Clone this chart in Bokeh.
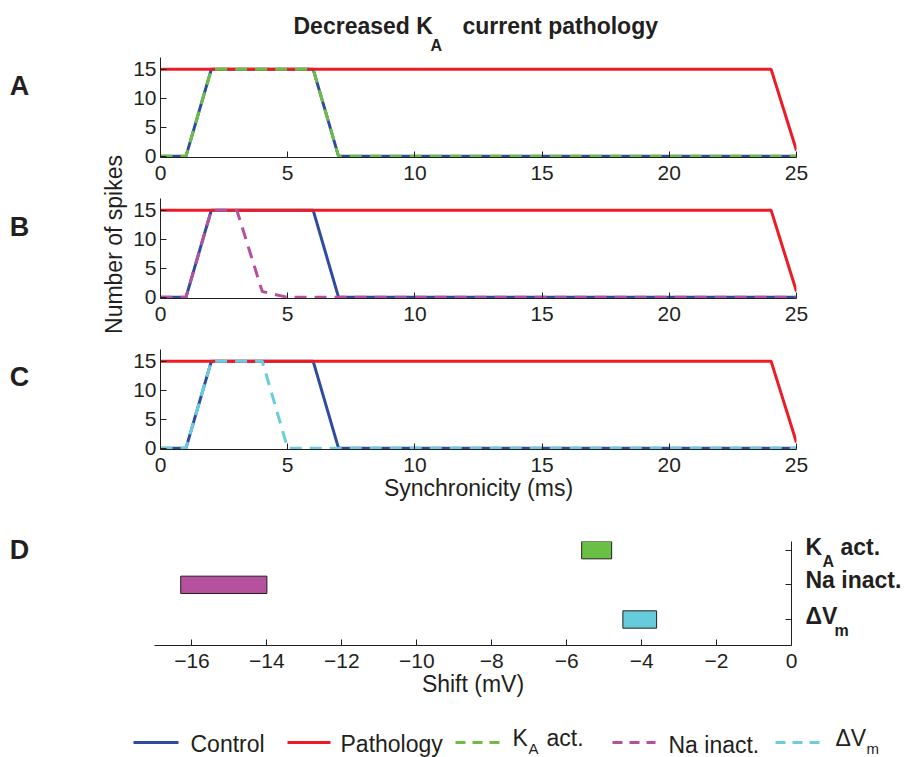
import math
from bokeh.plotting import figure
from bokeh.layouts import column, row
from bokeh.models import Range1d, FixedTicker
from bokeh.embed import file_html
from bokeh.resources import INLINE
from bokeh.core.properties import value

FONT = "Liberation Sans"
INK = "#231f20"
BLUE = "#2f4b9f"
RED = "#ed1c24"
GREEN = "#6cbd45"
MAGENTA = "#b5509d"
CYAN = "#6accdc"

# ---------------- data ----------------
synchronicity_ms = [0, 1, 2, 3, 4, 5, 6, 7, 8, 9, 10, 11, 12, 13, 14, 15, 16, 17, 18, 19, 20, 21, 22, 23, 24, 25]
control_spikes = [0, 0, 15, 15, 15, 15, 15, 0, 0, 0, 0, 0, 0, 0, 0, 0, 0, 0, 0, 0, 0, 0, 0, 0, 0, 0]
pathology_spikes = [15, 15, 15, 15, 15, 15, 15, 15, 15, 15, 15, 15, 15, 15, 15, 15, 15, 15, 15, 15, 15, 15, 15, 15, 15, 1]
ka_act_spikes = [0, 0, 15, 15, 15, 15, 15, 0, 0, 0, 0, 0, 0, 0, 0, 0, 0, 0, 0, 0, 0, 0, 0, 0, 0, 0]
na_inact_spikes = [0, 0, 15, 15, 1, 0, 0, 0, 0, 0, 0, 0, 0, 0, 0, 0, 0, 0, 0, 0, 0, 0, 0, 0, 0, 0]
dvm_spikes = [0, 0, 15, 15, 15, 0, 0, 0, 0, 0, 0, 0, 0, 0, 0, 0, 0, 0, 0, 0, 0, 0, 0, 0, 0, 0]

synch_ticks = [0, 5, 10, 15, 20, 25]
spike_ticks = [0, 5, 10, 15]

shift_rows = [3, 2, 1]            # K_A act., Na inact., dV_m
shift_left = [-5.6, -16.3, -4.5]
shift_right = [-4.8, -14.0, -3.6]
shift_colors = ["#6abf45", "#b5519d", "#66cbdb"]
shift_ticks = [-16, -14, -12, -10, -8, -6, -4, -2, 0]


def style_axis(ax, ticks):
    ax.ticker = FixedTicker(ticks=ticks)
    ax.minor_tick_line_color = None
    ax.major_tick_in = 6
    ax.major_tick_out = 0
    ax.axis_line_color = INK
    ax.axis_line_width = 1
    ax.major_tick_line_color = INK
    ax.major_label_text_font = FONT
    ax.major_label_text_font_size = "21px"
    ax.major_label_text_color = INK
    ax.axis_label_text_font = FONT
    ax.axis_label_text_font_size = "23px"
    ax.axis_label_text_font_style = "normal"
    ax.axis_label_text_color = INK


def text_canvas(x0, x1, y0, y1):
    """a plain figure whose frame is the page region x0..x1, y0..y1 (page pixels)"""
    p = figure(width=x1 - x0, height=y1 - y0, x_range=Range1d(x0, x1), y_range=Range1d(y1, y0),
               min_border=0, x_axis_location=None, y_axis_location=None,
               toolbar_location=None, output_backend="svg", outline_line_color=None)
    p.grid.visible = False
    return p


def put_text(p, x, y, text, size, bold=False, align="left", angle=0.0):
    p.text(x=[x], y=[y], text=[text], angle=angle, text_font=value(FONT),
           text_font_size=f"{size}px", text_font_style="bold" if bold else "normal",
           text_color=INK, text_align=align, text_baseline="middle")


XR = (0, 25)
YR = (-0.2, 17)


def spike_panel(border_top, border_bottom, overlay, overlay_color, xlabel=None):
    h = border_top + 100 + border_bottom
    p = figure(width=774, height=h, frame_width=636, frame_height=100,
               min_border_left=29, min_border_right=109,
               min_border_top=border_top, min_border_bottom=border_bottom,
               x_range=Range1d(*XR), y_range=Range1d(*YR),
               toolbar_location=None, output_backend="svg", outline_line_color=None)
    p.grid.visible = False
    style_axis(p.xaxis[0], synch_ticks)
    style_axis(p.yaxis[0], spike_ticks)
    p.xaxis[0].major_label_standoff = 8
    p.yaxis[0].major_label_standoff = 4
    if xlabel:
        p.xaxis[0].axis_label = xlabel
        p.xaxis[0].axis_label_standoff = 0
    p.line(synchronicity_ms, control_spikes, line_color=BLUE, line_width=3)
    p.line(synchronicity_ms, pathology_spikes, line_color=RED, line_width=3)
    p.line(synchronicity_ms, overlay, line_color=overlay_color, line_width=3, line_dash="12 8")
    return p


# ---------------- title ----------------
title_fig = text_canvas(0, 904, 0, 57)
put_text(title_fig, 293, 25.5, "Decreased K", 23, bold=True)
put_text(title_fig, 430, 45, "A", 16, bold=True)
put_text(title_fig, 462, 25.5, "current pathology", 23, bold=True)

# ---------------- panels A-C ----------------
pA = spike_panel(0, 32, ka_act_spikes, GREEN)
pB = spike_panel(9, 32, na_inact_spikes, MAGENTA)
pC = spike_panel(19, 60, dvm_spikes, CYAN, xlabel="Synchronicity (ms)")

# ---------------- panel D ----------------
DXR = (-17, 0)
DYR = (0.25, 3.25)
pD = figure(width=669, height=32 + 104 + 60, frame_width=637, frame_height=104,
            min_border_left=24, min_border_right=8, min_border_top=32, min_border_bottom=60,
            x_range=Range1d(*DXR), y_range=Range1d(*DYR), y_axis_location="right",
            toolbar_location=None, output_backend="svg", outline_line_color=None)
pD.grid.visible = False
style_axis(pD.xaxis[0], shift_ticks)
pD.xaxis[0].major_label_overrides = {t: ("\u2212" + str(abs(t)) if t < 0 else str(t)) for t in shift_ticks}
pD.xaxis[0].major_label_standoff = 8
pD.xaxis[0].axis_label = "Shift (mV)"
pD.xaxis[0].axis_label_standoff = 0
style_axis(pD.yaxis[0], shift_rows)
pD.yaxis[0].major_label_overrides = {r: "" for r in shift_rows}
pD.yaxis[0].major_label_standoff = 0
pD.hbar(y=shift_rows, left=shift_left, right=shift_right, height=0.5,
        fill_color=shift_colors, line_color=INK, line_width=1)

# category labels to the right of panel D
dlab = text_canvas(799, 904, 509, 705)
put_text(dlab, 805, 546.5, "K", 23, bold=True)
put_text(dlab, 822, 561, "A", 16, bold=True)
put_text(dlab, 840, 546.5, "act.", 23, bold=True)
put_text(dlab, 805, 579, "Na inact.", 23, bold=True)
put_text(dlab, 805, 615.5, "\u0394V", 23, bold=True)
put_text(dlab, 834, 630, "m", 16, bold=True)

# ---------------- left strip: panel letters and y label ----------------
left_fig = text_canvas(0, 130, 57, 705)
put_text(left_fig, 19, 85, "A", 27, bold=True, align="center")
put_text(left_fig, 19, 226, "B", 27, bold=True, align="center")
put_text(left_fig, 19, 376, "C", 27, bold=True, align="center")
put_text(left_fig, 19, 549, "D", 27, bold=True, align="center")
put_text(left_fig, 113, 244, "Number of spikes", 23, align="center", angle=math.pi / 2)

# ---------------- legend ----------------
leg = text_canvas(0, 904, 705, 757)
ly = 742
leg.segment(x0=[133], x1=[178], y0=[ly], y1=[ly], line_color=BLUE, line_width=3)
leg.segment(x0=[287], x1=[330], y0=[ly], y1=[ly], line_color=RED, line_width=3)
leg.segment(x0=[455], x1=[500], y0=[ly], y1=[ly], line_color=GREEN, line_width=3, line_dash="10 7")
leg.segment(x0=[612], x1=[655], y0=[ly], y1=[ly], line_color=MAGENTA, line_width=3, line_dash="10 7")
leg.segment(x0=[775], x1=[822], y0=[ly], y1=[ly], line_color=CYAN, line_width=3, line_dash="10 7")
put_text(leg, 190, 743, "Control", 23)
put_text(leg, 340, 743, "Pathology", 23)
put_text(leg, 512, 737, "K", 23)
put_text(leg, 528, 748, "A", 15)
put_text(leg, 546, 737, "act.", 23)
put_text(leg, 668, 744, "Na inact.", 23)
put_text(leg, 835, 737, "\u0394V", 23)
put_text(leg, 866, 748, "m", 15)

layout = column(
    title_fig,
    row(left_fig,
        column(pA, pB, pC, row(pD, column(dlab, spacing=0), spacing=0), spacing=0),
        spacing=0),
    leg,
    spacing=0,
)
open("out.html", "w").write(file_html(layout, INLINE))
